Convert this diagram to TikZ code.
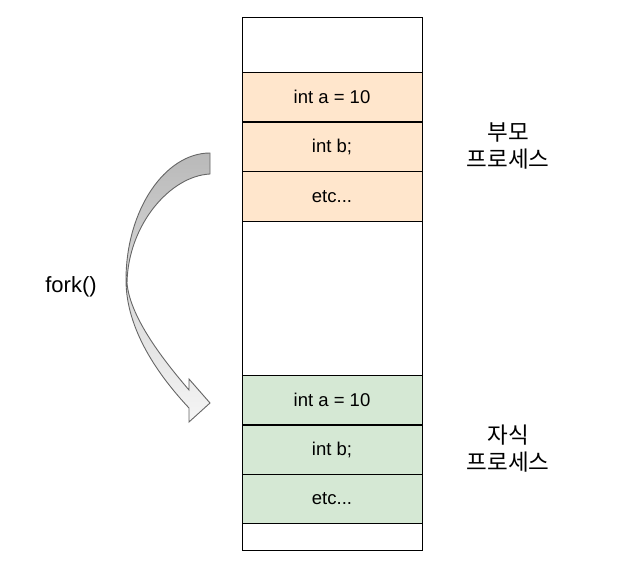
\documentclass[tikz,border=0pt]{standalone}
\usepackage{fontspec}
\setmainfont{Liberation Sans}
\newfontfamily\krfont{Noto Sans CJK KR}
\definecolor{parentfill}{HTML}{FFE6CC}
\definecolor{childfill}{HTML}{D5E8D4}
\definecolor{arrowline}{HTML}{666666}
\begin{document}
\begin{tikzpicture}[x=1pt,y=-1pt,
  cell/.style={draw=black,line width=1pt,minimum width=180pt,minimum height=49.5pt,inner sep=0pt,
    font=\fontsize{18.5}{21}\selectfont},
  krlabel/.style={align=center,font=\krfont\fontsize{22.5}{27}\selectfont},
]
\useasboundingbox (0,0) rectangle (625,575);
% memory column
\node[draw=black,line width=1pt,minimum width=180pt,minimum height=532pt,inner sep=0pt] (mem) at (332,284) {};
\node[cell,fill=parentfill] (pa) at (332,97) {int a = 10};
\node[cell,fill=parentfill] (pb) at (332,147) {int b;};
\node[cell,fill=parentfill] (pc) at (332,196.5) {etc...};
\node[cell,fill=childfill] (ca) at (332,400) {int a = 10};
\node[cell,fill=childfill] (cb) at (332,450) {int b;};
\node[cell,fill=childfill] (cc) at (332,499) {etc...};
% labels
\node[krlabel] (plabel) at (508,146) {부모\\프로세스};
\node[krlabel] (clabel) at (508,449) {자식\\프로세스};
\node[font=\fontsize{22}{25}\selectfont] (fork) at (71,287) {fork()};
% curved block arrow
\path[draw=arrowline,line width=0.9pt,line join=miter,
      top color=gray!55,bottom color=gray!8,middle color=gray!30]
  (210,153) .. controls (165,153) and (126,210) .. (126,280)
  .. controls (126,330) and (159,376) .. (189,408)
  -- (189,422) -- (210,403) -- (189,379) -- (189,390)
  .. controls (165,362) and (130,318) .. (127,283)
  .. controls (128,225) and (170,176) .. (210,174)
  -- cycle;
\end{tikzpicture}
\end{document}
